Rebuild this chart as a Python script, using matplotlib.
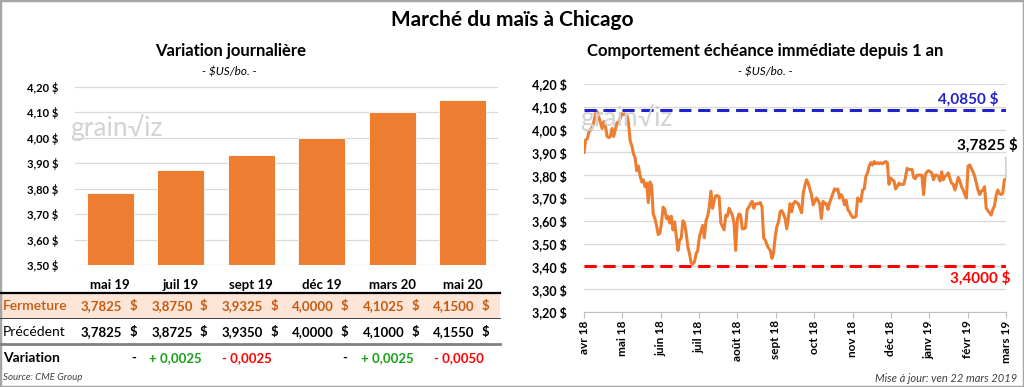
import matplotlib
matplotlib.use("Agg")
import matplotlib.pyplot as plt
import matplotlib.transforms as mtransforms
from matplotlib.patches import Rectangle
from matplotlib.lines import Line2D
from matplotlib.ticker import FuncFormatter, MultipleLocator
import numpy as np

plt.rcParams['font.family'] = ['Lato', 'DejaVu Sans']

# --- data : variation journaliere ---
contrats = ["mai 19", "juil 19", "sept 19", "déc 19", "mars 20", "mai 20"]
fermeture = [3.7825, 3.8750, 3.9325, 4.0000, 4.1025, 4.1500]
precedent = [3.7825, 3.8725, 3.9350, 4.0000, 4.1000, 4.1550]
variation = np.round(np.array(fermeture) - np.array(precedent), 4)

# --- data : echeance immediate depuis 1 an ---
mois = ["avr 18", "mai 18", "juin 18", "juil 18", "août 18", "sept 18",
        "oct 18", "nov 18", "déc 18", "janv 19", "févr 19", "mars 19"]
prix_avr_jul = [
    3.90, 3.955, 3.96, 3.99, 4.00, 4.01, 4.035, 4.07, 4.08, 4.055,
    4.03, 4.005, 4.035, 4.015, 3.97, 3.965, 3.97, 4.005, 3.97,
    4.00, 4.03, 4.03, 4.05, 4.07, 4.065, 4.07, 4.065,
    4.03, 3.95, 3.93, 3.895, 3.875, 3.82, 3.84, 3.80, 3.77, 3.78,
    3.75, 3.765, 3.68, 3.77, 3.755, 3.63, 3.61, 3.58, 3.54, 3.545,
    3.59, 3.66, 3.65, 3.61, 3.62, 3.59, 3.62, 3.56, 3.595, 3.53,
    3.47, 3.515, 3.525, 3.60, 3.59, 3.545, 3.485, 3.455, 3.415,
    3.41, 3.42, 3.455, 3.47, 3.53, 3.555, 3.58, 3.525, 3.60,
    3.62, 3.66, 3.73, 3.655, 3.69, 3.71, 3.71, 3.705,
    3.59, 3.575]
prix_aou_nov = [
    3.56, 3.625, 3.62, 3.655, 3.64, 3.625, 3.59, 3.47, 3.605, 3.63,
    3.625, 3.565, 3.565, 3.57, 3.65, 3.66, 3.675, 3.685, 3.655, 3.675, 3.675,
    3.675, 3.68, 3.66, 3.525, 3.515, 3.495, 3.48, 3.47, 3.435, 3.46, 3.53, 3.575,
    3.595, 3.64, 3.645, 3.63, 3.61, 3.565, 3.615, 3.675, 3.64, 3.675, 3.685,
    3.68, 3.675, 3.655, 3.635, 3.72, 3.755, 3.78, 3.765, 3.74, 3.715, 3.67,
    3.685, 3.70, 3.69, 3.675, 3.61, 3.685, 3.675, 3.675, 3.65, 3.68, 3.70, 3.72,
    3.74, 3.735, 3.74, 3.70, 3.715, 3.70, 3.67, 3.69, 3.65, 3.64,
    3.625, 3.615, 3.615, 3.62, 3.70, 3.69, 3.685, 3.735, 3.74, 3.795]
prix_dec_mar = [
    3.81, 3.84, 3.855, 3.845, 3.86, 3.85, 3.855, 3.85, 3.855, 3.85,
    3.855, 3.86, 3.855, 3.76, 3.788, 3.78, 3.775, 3.74, 3.75, 3.765, 3.76,
    3.76, 3.76, 3.79, 3.83, 3.825, 3.825, 3.825, 3.79, 3.785, 3.80,
    3.80, 3.80, 3.80, 3.715, 3.80, 3.815, 3.82, 3.815, 3.81, 3.78, 3.80,
    3.80, 3.795, 3.775, 3.815, 3.78, 3.795, 3.80, 3.81, 3.785, 3.765,
    3.76, 3.735, 3.76, 3.79, 3.775, 3.75, 3.735, 3.715, 3.70, 3.84,
    3.845, 3.83, 3.815, 3.795, 3.765, 3.735, 3.715, 3.73, 3.735, 3.75,
    3.655, 3.645, 3.635, 3.625, 3.65, 3.665, 3.71, 3.735, 3.72, 3.715,
    3.72, 3.78, 3.7825]
prix_1an = prix_avr_jul + prix_aou_nov + prix_dec_mar
haut_1an = 4.0850
bas_1an = 3.4000

ORANGE = "#ED7D31"
W, H = 1024, 387


def fx(px):
    return px / W


def fy(py):
    return 1 - py / H


def fr(v, nd):
    return f"{v:.{nd}f}".replace(".", ",")


fig = plt.figure(figsize=(W / 100, H / 100), dpi=100)
fig.patch.set_facecolor("white")

# --- titles ---
fig.text(fx(512), fy(20), "Marché du maïs à Chicago", ha="center", va="center",
         fontsize=15, fontweight="bold")
fig.text(fx(231), fy(51), "Variation journalière", ha="center", va="center",
         fontsize=12, fontweight="bold")
fig.text(fx(229), fy(72), "- $US/bo. -", ha="center", va="center",
         fontsize=8.5, style="italic")
fig.text(fx(765), fy(51), "Comportement échéance immédiate depuis 1 an",
         ha="center", va="center", fontsize=12, fontweight="bold")
fig.text(fx(765), fy(72), "- $US/bo. -", ha="center", va="center",
         fontsize=8.5, style="italic")

# --- bar chart ---
ax1 = fig.add_axes([fx(75), fy(265), fx(498) - fx(75), fy(87) - fy(265)])
x = np.arange(len(contrats))
ax1.bar(x, fermeture, width=0.66, color=ORANGE, edgecolor="white", linewidth=0.6, zorder=3)
ax1.set_ylim(3.5, 4.2)
ax1.set_xlim(-0.5, len(contrats) - 0.5)
ax1.yaxis.set_major_locator(MultipleLocator(0.1))
ax1.yaxis.set_major_formatter(FuncFormatter(lambda v, p: fr(v, 2) + " $"))
ax1.grid(axis="y", color="#D9D9D9", linewidth=0.9, zorder=0)
for s in ax1.spines.values():
    s.set_visible(False)
ax1.tick_params(length=0)
ax1.tick_params(axis="y", pad=12, labelsize=8)
ax1.tick_params(axis="x", pad=10, labelsize=9.5)
ax1.set_xticks(x)
ax1.set_xticklabels(contrats, fontweight="bold")
for t in ax1.get_yticklabels():
    t.set_fontweight("bold")

# watermark
fig.text(fx(70), fy(128), "grain\u221aiz", fontsize=19, color="#D3D3D3", va="center")
fig.text(fx(580), fy(118), "grain\u221aiz", fontsize=19, color="#D3D3D3", va="center")

# --- table under bars ---
fig.add_artist(Rectangle((fx(1), fy(318)), fx(500) - fx(1), fy(293) - fy(318),
                         transform=fig.transFigure, facecolor="#FCE4D6",
                         edgecolor="none", zorder=0))
fig.add_artist(Line2D([fx(0), fx(500)], [fy(293)] * 2, color="black", lw=1.6))
fig.add_artist(Line2D([fx(0), fx(500)], [fy(318)] * 2, color="#3F3F3F", lw=0.7))
fig.add_artist(Line2D([fx(0), fx(500)], [fy(344)] * 2, color="#808080", lw=2))

BRUN = "#C55A11"
fig.text(fx(3), fy(306), "Fermeture", ha="left", va="center", fontsize=10,
         color=BRUN, fontweight="semibold")
fig.text(fx(3), fy(332), "Précédent", ha="left", va="center", fontsize=10)
fig.text(fx(3), fy(358), "Variation", ha="left", va="center", fontsize=10, fontweight="bold")

base = mtransforms.blended_transform_factory(ax1.transData, fig.transFigure)
t_num = mtransforms.offset_copy(base, fig=fig, x=12, y=0, units="dots")
t_dol = mtransforms.offset_copy(base, fig=fig, x=23, y=0, units="dots")
t_var = mtransforms.offset_copy(base, fig=fig, x=21, y=0, units="dots")
for i in range(len(contrats)):
    for row_y, vals, col in [(306, fermeture, BRUN), (332, precedent, "black")]:
        fig.text(i, fy(row_y), fr(vals[i], 4), transform=t_num, ha="right",
                 va="center", fontsize=9.5, fontweight="bold", color=col)
        fig.text(i, fy(row_y), "$", transform=t_dol, ha="center",
                 va="center", fontsize=9.5, fontweight="bold", color=col)
    v = variation[i]
    if v == 0:
        fig.text(i, fy(358), "-", transform=t_dol, ha="center", va="center",
                 fontsize=9.5, fontweight="bold")
    elif v > 0:
        fig.text(i, fy(358), "+ " + fr(v, 4), transform=t_var, ha="right",
                 va="center", fontsize=9.5, fontweight="bold", color="#16A016")
    else:
        fig.text(i, fy(358), "- " + fr(-v, 4), transform=t_var, ha="right",
                 va="center", fontsize=9.5, fontweight="bold", color="#FF0000")

fig.text(fx(3), fy(378), "Source: CME Group", ha="left", va="center",
         fontsize=7, style="italic", color="#404040")

# --- line chart ---
ax2 = fig.add_axes([fx(584), fy(312), fx(1006) - fx(584), fy(84) - fy(312)])
n = len(prix_1an)
jours = np.arange(n)
ax2.plot(jours, prix_1an, color=ORANGE, lw=2.2, zorder=3)
ax2.axhline(haut_1an, color="#2222CC", lw=2.2, dashes=(4, 2.2), zorder=4)
ax2.axhline(bas_1an, color="#FF0000", lw=2.2, dashes=(4, 2.2), zorder=4)
ax2.set_ylim(3.2, 4.2)
ax2.set_xlim(0, n - 1)
ax2.yaxis.set_major_locator(MultipleLocator(0.1))
ax2.yaxis.set_major_formatter(FuncFormatter(lambda v, p: fr(v, 2) + " $"))
ax2.grid(axis="y", color="#D9D9D9", linewidth=0.9, zorder=0)
for k in ["top", "right", "left"]:
    ax2.spines[k].set_visible(False)
ax2.spines["bottom"].set_color("#BFBFBF")
ax2.tick_params(axis="y", length=0, pad=12, labelsize=9)
ax2.set_xticks(np.linspace(0, n - 1, len(mois)))
ax2.set_xticklabels(mois, rotation=90, fontweight="bold")
ax2.tick_params(axis="x", length=4, color="#BFBFBF", pad=2, labelsize=8.5)
for t in ax2.get_yticklabels():
    t.set_fontweight("bold")

fig.text(fx(999), fy(99), fr(haut_1an, 4) + " $", ha="right", va="center",
         fontsize=11, fontweight="bold", color="#2222CC")
fig.text(fx(1011), fy(278), fr(bas_1an, 4) + " $", ha="right", va="center",
         fontsize=11, fontweight="bold", color="#FF0000")
ax2.annotate(fr(prix_1an[-1], 4) + " $", xy=(n - 1, prix_1an[-1]),
             xytext=(fx(1018), fy(145)), textcoords="figure fraction",
             ha="right", va="center", fontsize=11, fontweight="bold",
             arrowprops=dict(arrowstyle="-", color="#A6A6A6", lw=0.6,
                             relpos=(0.8, 0.0), shrinkA=1, shrinkB=1))

fig.text(fx(1017), fy(378), "Mise à jour: ven 22 mars 2019", ha="right",
         va="center", fontsize=8, style="italic", color="#404040")

fig.add_artist(Rectangle((0, 0), 1, 1, transform=fig.transFigure, fill=False,
                         edgecolor="#A6A6A6", lw=2.5))

fig.savefig("out.png", dpi=100)
